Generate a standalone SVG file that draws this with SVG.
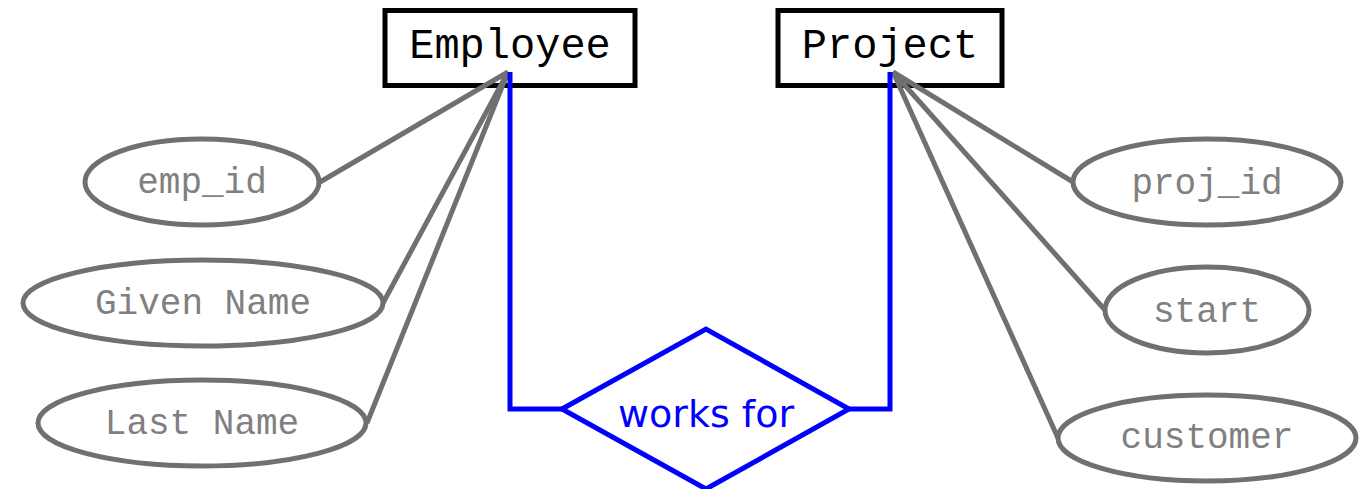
<svg xmlns="http://www.w3.org/2000/svg" width="1370" height="489" viewBox="0 0 1370 489">
<style>
.ent{fill:#fff;stroke:#000;stroke-width:5}
.entt{font-family:"Liberation Mono",monospace;font-size:42px;fill:#000;text-anchor:middle}
.att{fill:#fff;stroke:#707070;stroke-width:5}
.attt{font-family:"Liberation Mono",monospace;font-size:36px;fill:#808080;text-anchor:middle}
.gl{stroke:#707070;stroke-width:5;fill:none}
.bl{stroke:#0000ff;stroke-width:5;fill:none}
.rel{fill:#fff;stroke:#0000ff;stroke-width:5}
.relt{font-family:"DejaVu Sans",sans-serif;font-size:38px;fill:#0000ff;text-anchor:middle}
</style>
<rect width="1370" height="489" fill="#fff"/>
<g id="employee"><rect class="ent" x="385" y="10.5" width="250" height="75"/><text class="entt" x="510" y="58">Employee</text></g>
<g id="project"><rect class="ent" x="778" y="10.5" width="224" height="75"/><text class="entt" x="890" y="58">Project</text></g>
<g id="emp_id"><ellipse class="att" cx="202" cy="182" rx="117" ry="43"/><text class="attt" x="202" y="193">emp_id</text></g>
<g id="given_name"><ellipse class="att" cx="203" cy="303" rx="180" ry="43"/><text class="attt" x="203" y="314">Given Name</text></g>
<g id="last_name"><ellipse class="att" cx="202" cy="423" rx="164" ry="43"/><text class="attt" x="202" y="434">Last Name</text></g>
<g id="proj_id"><ellipse class="att" cx="1207" cy="182" rx="134" ry="43"/><text class="attt" x="1207" y="194">proj_id</text></g>
<g id="start"><ellipse class="att" cx="1207" cy="310" rx="102" ry="43"/><text class="attt" x="1207" y="322">start</text></g>
<g id="customer"><ellipse class="att" cx="1207" cy="438" rx="149" ry="43"/><text class="attt" x="1207" y="448">customer</text></g>
<g id="works_for"><polygon class="rel" points="562,409 706,329 849,409 706,489"/><text class="relt" x="706" y="427">works for</text></g>
<g id="connectors">
<line class="gl" x1="508" y1="72" x2="320" y2="182"/>
<line class="gl" x1="508" y1="72" x2="383" y2="303"/>
<line class="gl" x1="508" y1="72" x2="367" y2="423"/>
<line class="gl" x1="893" y1="72" x2="1073" y2="182"/>
<line class="gl" x1="893" y1="72" x2="1105" y2="310"/>
<line class="gl" x1="893" y1="72" x2="1058" y2="438"/>
<path class="bl" d="M510,72 V409 H562"/>
<path class="bl" d="M849,409 H890 V72"/>
</g>
</svg>
